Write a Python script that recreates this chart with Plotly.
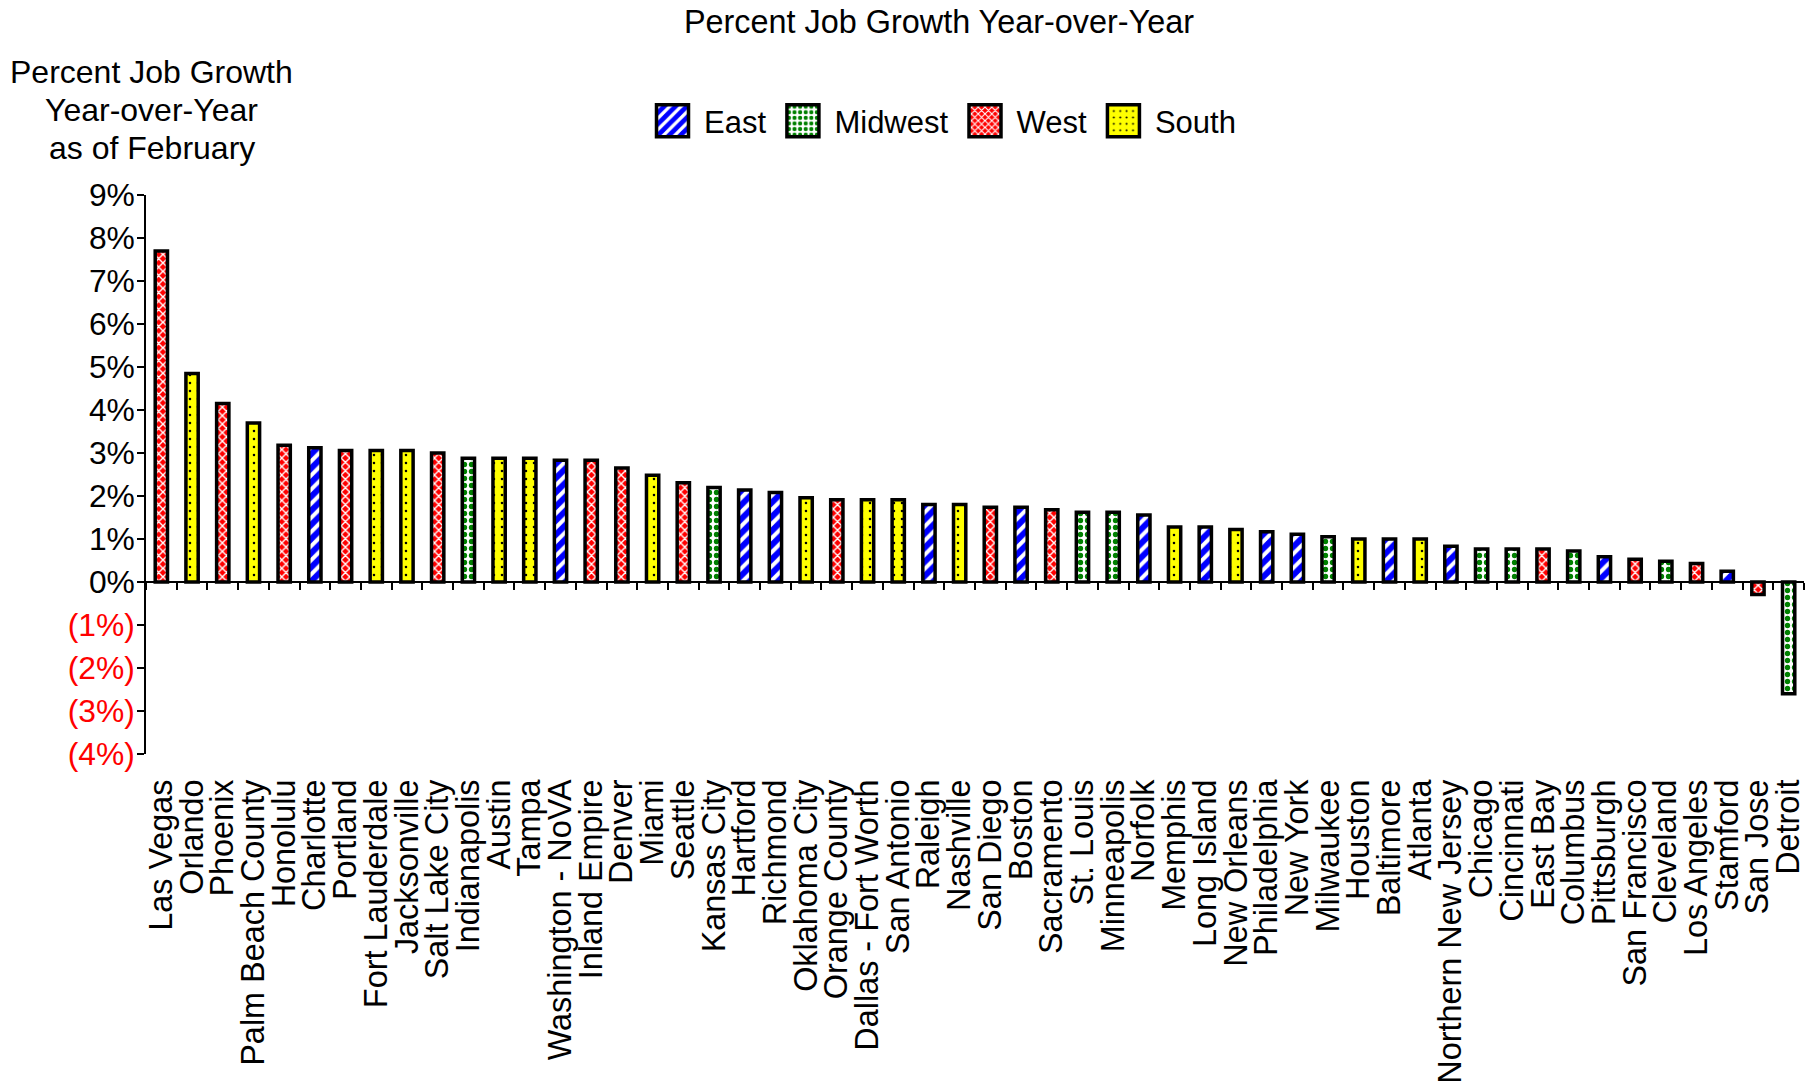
import plotly.graph_objects as go

# Metro areas, ordered by job growth
cities = [
    "Las Vegas", "Orlando", "Phoenix", "Palm Beach County", "Honolulu", "Charlotte",
    "Portland", "Fort Lauderdale", "Jacksonville", "Salt Lake City", "Indianapolis",
    "Austin", "Tampa", "Washington - NoVA", "Inland Empire", "Denver", "Miami",
    "Seattle", "Kansas City", "Hartford", "Richmond", "Oklahoma City", "Orange County",
    "Dallas - Fort Worth", "San Antonio", "Raleigh", "Nashville", "San Diego", "Boston",
    "Sacramento", "St. Louis", "Minneapolis", "Norfolk", "Memphis", "Long Island",
    "New Orleans", "Philadelphia", "New York", "Milwaukee", "Houston", "Baltimore",
    "Atlanta", "Northern New Jersey", "Chicago", "Cincinnati", "East Bay", "Columbus",
    "Pittsburgh", "San Francisco", "Cleveland", "Los Angeles", "Stamford", "San Jose",
    "Detroit",
]

# Percent job growth, year-over-year
growth = [
    7.70, 4.85, 4.15, 3.70, 3.18, 3.12,
    3.06, 3.06, 3.06, 3.00, 2.88,
    2.88, 2.88, 2.83, 2.83, 2.65, 2.48,
    2.31, 2.20, 2.14, 2.08, 1.96, 1.91,
    1.91, 1.91, 1.80, 1.80, 1.74, 1.74,
    1.68, 1.62, 1.62, 1.56, 1.28, 1.28,
    1.22, 1.17, 1.11, 1.05, 1.00, 1.00,
    1.00, 0.83, 0.77, 0.77, 0.77, 0.72,
    0.59, 0.53, 0.48, 0.43, 0.25, -0.29,
    -2.60,
]

regions = [
    "West", "South", "West", "South", "West", "East",
    "West", "South", "South", "West", "Midwest",
    "South", "South", "East", "West", "West", "South",
    "West", "Midwest", "East", "East", "South", "West",
    "South", "South", "East", "South", "West", "East",
    "West", "Midwest", "Midwest", "East", "South", "East",
    "South", "East", "East", "Midwest", "South", "East",
    "South", "East", "Midwest", "Midwest", "West", "Midwest",
    "East", "West", "Midwest", "West", "East", "West",
    "Midwest",
]

region_order = ["East", "Midwest", "West", "South"]

y_ticks = list(range(-4, 10))
y_labels = [
    f"<span style='color:#FF0000'>({abs(v)}%)</span>" if v < 0 else f"{v}%"
    for v in y_ticks
]

patterns = {
    "East": dict(shape="/", bgcolor="#FFFFFF", fgcolor="#0000FF", size=10,
                 solidity=0.6, fgopacity=1),
    "Midwest": dict(shape=".", bgcolor="#FFFFFF", fgcolor="#008000", size=7,
                    solidity=0.45, fgopacity=1),
    "West": dict(shape="x", bgcolor="#FF0000", fgcolor="#FFFFFF", size=6,
                 solidity=0.4, fgopacity=1),
    "South": dict(shape=".", bgcolor="#FFFF00", fgcolor="#000000", size=8,
                  solidity=0.08, fgopacity=1),
}

FONT = "Liberation Sans, Arial, Helvetica, sans-serif"
W, H = 1815, 1083
M_L, M_R, M_T, M_B = 146, 11, 195, 311
plot_h = H - M_T - M_B
y_min, y_max = -4, 9
y_bottom_px = 754
dom_lo = (H - M_B - y_bottom_px) / plot_h
zero_pos = dom_lo + (1 - dom_lo) * (0 - y_min) / (y_max - y_min)


def py(pixel_y):
    """Paper y for a pixel row measured from the top of the page."""
    return 1 + (M_T - pixel_y) / plot_h


def px(pixel_x):
    return (pixel_x - M_L) / (W - M_L - M_R)


fig = go.Figure()
for reg in region_order:
    xs = [c for c, r in zip(cities, regions) if r == reg]
    ys = [v for v, r in zip(growth, regions) if r == reg]
    fig.add_trace(go.Bar(
        x=xs, y=ys, name=reg,
        marker=dict(
            color=patterns[reg]["bgcolor"],
            pattern=patterns[reg],
            line=dict(color="#000000", width=3.5),
        ),
        hovertemplate="%{x}: %{y:.2f}%<extra>" + reg + "</extra>",
    ))

# invisible companion trace that carries the category labels along the bottom
fig.add_trace(go.Scatter(
    x=cities, y=growth, xaxis="x2", mode="markers",
    marker=dict(opacity=0, size=1), showlegend=False, hoverinfo="skip",
))

cat_range = [-0.5, len(cities) - 0.5]

fig.update_layout(
    width=W, height=H,
    margin=dict(l=M_L, r=M_R, t=M_T, b=M_B, autoexpand=False),
    paper_bgcolor="white", plot_bgcolor="white",
    font=dict(family=FONT, size=31, color="black"),
    barmode="overlay", bargap=0.6,
    title=dict(
        text="Percent Job Growth Year-over-Year",
        x=939 / W, xanchor="center", y=1 - 22 / H, yanchor="middle",
        font=dict(family=FONT, size=32.4, color="black"),
    ),
    legend=dict(
        orientation="h", x=px(641), xanchor="left", y=py(121), yanchor="middle",
        font=dict(family=FONT, size=31, color="black"),
        bgcolor="rgba(0,0,0,0)", itemwidth=53,
    ),
    xaxis=dict(
        type="category", categoryorder="array", categoryarray=cities,
        range=cat_range, anchor="free", position=zero_pos, automargin=False,
        showline=True, linecolor="black", linewidth=1.5,
        ticks="outside", tickson="boundaries", ticklen=7, tickwidth=1.5,
        tickcolor="black", showticklabels=False, showgrid=False, zeroline=False,
    ),
    xaxis2=dict(
        type="category", categoryorder="array", categoryarray=cities,
        range=cat_range, overlaying="x", anchor="free", position=0,
        automargin=False, tickmode="linear", tick0=0, dtick=1,
        showline=False, ticks="", showgrid=False, zeroline=False,
        tickangle=-90, tickfont=dict(family=FONT, size=32.4, color="black"),
    ),
    yaxis=dict(
        domain=[dom_lo, 1], range=[y_min, y_max], automargin=False,
        tickmode="array", tickvals=y_ticks, ticktext=y_labels,
        ticks="outside", ticklen=7, tickwidth=1.5, tickcolor="black",
        showline=True, linecolor="black", linewidth=1.5,
        showgrid=False, zeroline=False, ticklabelstandoff=-4,
        tickfont=dict(family=FONT, size=31.8, color="black"),
    ),
)

# stacked y-axis caption at the top left
for text, row in [("Percent Job Growth", 72), ("Year-over-Year", 110), ("as of February", 148)]:
    fig.add_annotation(
        text=text, xref="paper", yref="paper", x=px(151.6), y=py(row),
        xanchor="center", yanchor="middle", showarrow=False,
        font=dict(family=FONT, size=32, color="black"),
    )

# larger square keys in the legend
post_js = """
var gd = document.getElementById('{plot_id}');
function bigKeys() {
  gd.querySelectorAll('.legend .legendpoints path').forEach(function (p) {
    p.setAttribute('d', 'M16,16H-16V-16H16Z');
  });
}
bigKeys();
gd.on('plotly_afterplot', bigKeys);
"""

fig.write_html("out.html", post_script=post_js)
